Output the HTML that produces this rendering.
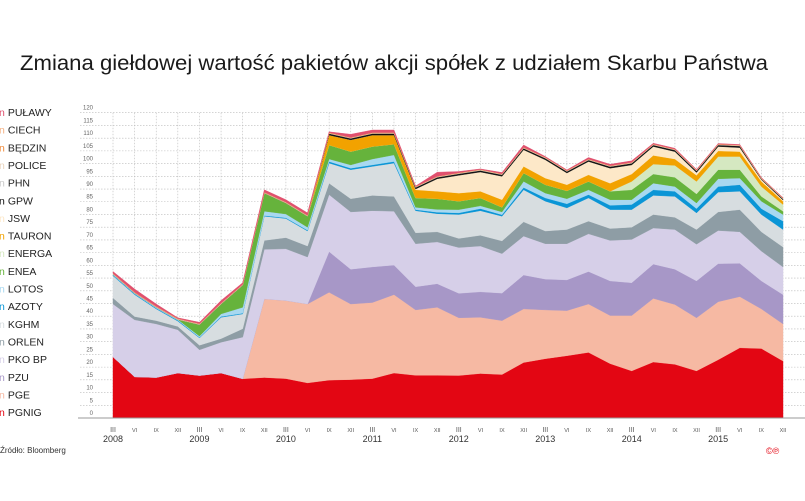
<!DOCTYPE html>
<html><head><meta charset="utf-8">
<style>
body{margin:0;background:#fff;width:805px;height:501px;overflow:hidden;font-family:"Liberation Sans",sans-serif;}
svg{display:block}
</style></head>
<body>
<svg id="chart" width="805" height="501" viewBox="0 0 805 501" xmlns="http://www.w3.org/2000/svg">
<text x="20" y="70" font-size="21.5" fill="#1a1a1a" textLength="748" lengthAdjust="spacingAndGlyphs" font-family="Liberation Sans, sans-serif">Zmiana giełdowej wartość pakietów akcji spółek z udziałem Skarbu Państwa</text>
<g id="grid"></g>
<g id="areas"></g>
<g id="axes"></g>
<g id="legend"></g>
<text x="0" y="453" font-size="8" fill="#333">Źródło: Bloomberg</text>
<text x="766" y="454" font-size="9" fill="#e30613">©℗</text>
</svg>
<script>
const quarters = ["III","VI","IX","XII","III","VI","IX","XII","III","VI","IX","XII","III","VI","IX","XII","III","VI","IX","XII","III","VI","IX","XII","III","VI","IX","XII","III","VI","IX","XII"];
const years = ["2008","2009","2010","2011","2012","2013","2014","2015"];
const yTicks = [0,5,10,15,20,25,30,35,40,45,50,55,60,65,70,75,80,85,90,95,100,105,110,115,120];
const seriesNames = ["PGNIG","PGE","PZU","PKO BP","ORLEN","KGHM","AZOTY","LOTOS","ENEA","ENERGA","TAURON","JSW","GPW","PHN","POLICE","BĘDZIN","CIECH","PUŁAWY"];
const seriesColors = ["#e30613","#f6b9a3","#a797c7","#d6cfe8","#8e9da5","#d7dde0","#0a95d6","#a8d8f0","#66b33c","#d5e8c1","#f2a200","#fde8c8","#111111","#c9c9c9","#e9d3bd","#f08a3a","#f4b183","#e0506e"];
const pgnig = [24,16.2,15.9,17.7,16.7,17.7,15.4,15.9,15.5,13.8,14.9,15.1,15.5,17.7,16.8,16.8,16.7,17.5,17.1,21.8,23.3,24.5,25.8,21.4,18.5,22,21.1,18.5,22.9,27.6,27.3,22.4];
const pge = [0,0,0,0,0,0,0,30.9,30.7,31,34.5,29.7,29.9,30.8,25.7,26.7,22.7,22.1,21.2,21.1,19.2,17.7,19,18.9,21.8,25,23.5,20.9,22.8,20.1,15.6,14.6];
const pzu = [0,0,0,0,0,0,0,0,0,0,16,13.7,14,11.6,9.1,9.3,9.6,10,10.8,13.3,12.1,12.1,12.8,13.6,12.9,13.5,13.9,14.5,15,13.1,11,11.5];
const pkobp = [20.8,22.4,21.1,17,10.1,12.1,16.4,19.5,20.3,18.5,22.4,22.5,22.1,21.2,16.9,16.4,18,18,15.5,15.3,13.9,14.2,14.8,15.9,17,14.2,15.6,14.4,13,12.4,11.7,10.9];
const orlen = [2.4,1.3,1.3,1.3,1.8,1.4,3.3,3.5,4.4,4.3,4.5,5.2,6,5.8,4.3,4,3.6,4.2,5,5.6,5,5.6,5,4.7,4.8,5.3,4.8,5.8,7.3,8.7,7.6,7.8];
const kghm = [8.7,8.6,4.6,2.1,2.9,8.4,5.8,9.5,7.5,5.9,7.9,11.4,11.4,13.1,8.7,7.1,9.4,9.7,9.7,12.6,11.7,8.5,9.1,7.4,6.9,7.5,8.2,6.5,7.8,7.2,6.8,6.9];
const azoty = [0.3,0.3,0.3,0.3,0.2,0.3,0.3,0.3,0.3,0.3,0.6,0.6,0.6,0.6,0.4,0.6,0.6,0.8,0.6,0.9,1.3,1.6,1.3,1.7,2,2.2,2,1.7,2.2,2.6,2.3,3.3];
const lotos = [0.3,0.3,0.3,0.3,0.5,1,2.3,1.7,1.5,1.2,1,1.3,2.3,2.6,0.9,1.1,1.3,1.1,1.1,2.4,1.9,2,1.9,2.2,1.9,2.6,1.9,2.2,3,2.6,2.9,2.6];
const enea = [0,0,0,0,4.5,3.9,8.7,7.1,4.3,4.3,5.5,5.2,4.9,4.2,3.7,4.2,3.3,3.1,1.8,3.3,3.3,3.1,3.3,3.3,3.9,3.6,3.6,3.6,3.6,3.3,1.9,1.3];
const energa = [0,0,0,0,0,0,0,0,0,0,0,0,0,0,0,0,0,0,0,0,0,0,0,0,3.3,3.9,4.7,4.9,5.2,5.2,3.9,2.6];
const tauron = [0,0,0,0,0,0,0,0,0,0,3.9,4.6,4.5,3.6,3.2,2.9,3.2,2.6,3,2.6,2.6,2.4,2.6,3.2,2.9,3.4,2.5,2.4,2.2,1.9,2,1.3];
const jsw = [0,0,0,0,0,0,0,0,0,0,0,0,0,0,0.3,4.9,7,7.6,9.2,6.5,7.2,4.6,5.2,5.9,3.6,3.5,2.9,1.1,1.7,1.6,0.7,0.5];
const gpw = [0,0,0,0,0,0,0,0,0,0,0.6,0.6,0.6,0.6,0.6,0.6,0.6,0.6,0.6,0.6,0.6,0.6,0.6,0.6,0.6,0.6,0.6,0.6,0.6,0.6,0.3,0.4];
const phn = [0.1,0.1,0.1,0.1,0.1,0.1,0.1,0.1,0.1,0.1,0.1,0.1,0.1,0.1,0.1,0.1,0.1,0.1,0.1,0.1,0.1,0.1,0.1,0.1,0.1,0.1,0.1,0.1,0.1,0.1,0.1,0.1];
const police = [0.1,0.1,0.1,0.1,0.1,0.1,0.1,0.1,0.1,0.1,0.1,0.1,0.1,0.1,0.1,0.1,0.1,0.1,0.1,0.1,0.1,0.1,0.1,0.1,0.1,0.1,0.1,0.1,0.1,0.1,0.1,0.1];
const bedzin = [0.1,0.1,0.1,0.1,0.1,0.1,0.1,0.1,0.1,0.1,0.1,0.1,0.1,0.1,0.1,0.1,0.1,0.1,0.1,0.1,0.1,0.1,0.1,0.1,0.1,0.1,0.1,0.1,0.1,0.1,0.1,0.1];
const ciech = [0.1,0.1,0.1,0.1,0.1,0.1,0.1,0.1,0.1,0.1,0.1,0.1,0.1,0.1,0.1,0.1,0.1,0.1,0.1,0.1,0.1,0.1,0.1,0.1,0.1,0.1,0.1,0.1,0.1,0.1,0.1,0.1];
const pulawy = [0.7,1.2,0.9,0.3,0.5,1,0.6,0.9,0.9,0.9,0.3,1.2,1,1,0.2,1.6,0.5,0.2,0.5,0.9,0.3,0.2,0.6,0.5,0.6,0.3,0.3,0.2,0.2,0.2,0.1,0.1];
const seriesValues = [pgnig,pge,pzu,pkobp,orlen,kghm,azoty,lotos,enea,energa,tauron,jsw,gpw,phn,police,bedzin,ciech,pulawy];

const NS = "http://www.w3.org/2000/svg";
const X0 = 113, X1 = 783, Y0 = 418, Y120 = 112.7;
function xScale(i){ return X0 + (X1 - X0) * i / (quarters.length - 1); }
function yScale(v){ return Y0 - (Y0 - Y120) * v / 120; }
function mk(tag, attrs, parent){ const e = document.createElementNS(NS, tag); for (const k in attrs) e.setAttribute(k, attrs[k]); parent.appendChild(e); return e; }

const grid = document.getElementById('grid');
yTicks.forEach(t => {
  const y = yScale(t);
  if (t > 0) {
    const l = mk('line', {x1: 80, x2: 805, y1: y, y2: y, stroke: '#bbb', 'stroke-width': 0.6, 'stroke-dasharray': '1.5,1.5'}, grid);
    
    
  }
  const tx = mk('text', {x: 93, y: y - 3, 'font-size': 6, fill: '#666', 'text-anchor': 'end'}, grid);
  tx.textContent = t;
  
  
});
quarters.forEach((q, i) => {
  const x = xScale(i);
  const l = mk('line', {x1: x, x2: x, y1: yScale(120), y2: Y0, stroke: '#bbb', 'stroke-width': 0.6, 'stroke-dasharray': '1.5,1.5'}, grid);
  
  
});

const areas = document.getElementById('areas');
const cum = quarters.map(() => 0);
seriesValues.forEach((vals, s) => {
  const lower = cum.slice();
  vals.forEach((v, i) => { cum[i] += v; });
  let d = '';
  cum.forEach((v, i) => { d += (i ? 'L' : 'M') + xScale(i).toFixed(1) + ',' + yScale(v).toFixed(1); });
  for (let i = lower.length - 1; i >= 0; i--) d += 'L' + xScale(i).toFixed(1) + ',' + yScale(lower[i]).toFixed(1);
  d += 'Z';
  const p = mk('path', {d: d, fill: seriesColors[s], stroke: seriesColors[s], 'stroke-width': 0.4}, areas);
  
  
});

const axes = document.getElementById('axes');
const base = mk('line', {x1: 78, x2: 805, y1: Y0, y2: Y0, stroke: '#999', 'stroke-width': 1}, axes);


quarters.forEach((q, i) => {
  const t = mk('text', {x: xScale(i), y: 432, 'font-size': q === 'III' ? 7 : 5.5, fill: '#555', 'text-anchor': 'middle'}, axes);
  t.textContent = q;
  
  
});
years.forEach((yr, k) => {
  const t = mk('text', {x: xScale(k * 4), y: 442, 'font-size': 9, fill: '#333', 'text-anchor': 'middle'}, axes);
  t.textContent = yr;
  
  
});

const legend = document.getElementById('legend');
for (let s = seriesNames.length - 1, r = 0; s >= 0; s--, r++) {
  const y = 116 + r * 17.65;
  const g = mk('text', {x: -1, y: y, 'font-size': 10.5}, legend);
  
  
  const a = mk('tspan', {fill: seriesColors[s]}, g); a.textContent = 'n';
  const b = mk('tspan', {fill: '#222', dx: 3}, g); b.textContent = seriesNames[s];
}
</script>
</body></html>
